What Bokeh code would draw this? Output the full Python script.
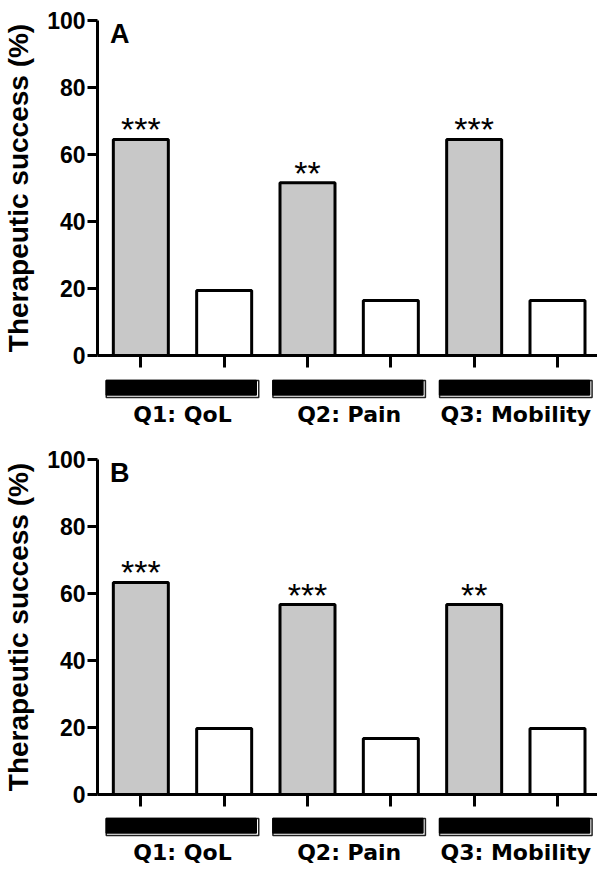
from bokeh.plotting import figure
from bokeh.models import Range1d, FixedTicker, Label, ColumnDataSource
from bokeh.layouts import column
from bokeh.core.properties import value
from bokeh.embed import file_html
from bokeh.resources import INLINE

# ---- data ----
categories = ["Q1: QoL", "Q2: Pain", "Q3: Mobility"]
panel_a_treated = [64.5, 51.6, 64.5]
panel_a_control = [19.4, 16.4, 16.4]
panel_b_treated = [63.3, 56.7, 56.7]
panel_b_control = [19.7, 16.7, 19.7]
sig_a = ["***", "**", "***"]
sig_b = ["***", "***", "**"]
y_ticks = [0, 20, 40, 60, 80, 100]
panel_letters = ["A", "B"]

FONT = "Liberation Sans"
x_range = Range1d(-0.52, 5.48)
LEFT = 97
FW = 500


def main_panel(treated, control, sig, letter, top_border):
    n = len(categories)
    tx = [2 * i for i in range(n)]
    cx = [2 * i + 1 for i in range(n)]
    p = figure(frame_width=FW, frame_height=335, x_range=x_range,
               y_range=Range1d(0, 100), output_backend="svg",
               toolbar_location=None, min_border_left=LEFT, min_border_right=0,
               min_border_top=top_border, min_border_bottom=14)
    p.outline_line_color = None
    p.grid.visible = False
    p.vbar(x=tx, top=treated, bottom=0, width=0.66, fill_color="#c8c8c8",
           line_color="black", line_width=3)
    p.vbar(x=cx, top=control, bottom=0, width=0.66, fill_color="white",
           line_color="black", line_width=3)
    src = ColumnDataSource(dict(x=tx, y=treated, t=sig))
    p.text(x="x", y="y", text="t", source=src, text_align="center",
           text_baseline="alphabetic", text_font=value(FONT),
           text_font_size="34px", text_color="black", y_offset=-10)

    ya = p.yaxis[0]
    ya.ticker = FixedTicker(ticks=y_ticks)
    ya.axis_line_width = 3
    ya.major_tick_line_width = 3
    ya.major_tick_out = 10
    ya.major_tick_in = 0
    ya.minor_tick_out = 0
    ya.minor_tick_in = 0
    ya.major_label_standoff = 2
    ya.major_label_text_font = FONT
    ya.major_label_text_font_style = "bold"
    ya.major_label_text_font_size = "23px"
    ya.major_label_text_color = "black"
    ya.axis_label = "Therapeutic success (%)"
    ya.axis_label_text_font = FONT
    ya.axis_label_text_font_style = "bold"
    ya.axis_label_text_font_size = "28px"
    ya.axis_label_text_color = "black"
    ya.axis_label_standoff = 10

    xa = p.xaxis[0]
    ticks = tx + cx
    xa.ticker = FixedTicker(ticks=ticks)
    xa.major_label_overrides = {t: "" for t in ticks}
    xa.axis_line_width = 3
    xa.major_tick_line_width = 3
    xa.major_tick_out = 12
    xa.major_tick_in = 0
    xa.minor_tick_out = 0
    xa.minor_tick_in = 0
    xa.major_label_standoff = 0

    p.add_layout(Label(x=-0.37, y=96, text=letter, text_font=FONT,
                       text_font_style="bold", text_font_size="27px",
                       text_baseline="alphabetic", text_color="black"))
    return p


def strip_panel(height, bar_top, baseline):
    n = len(categories)
    centers = [(2 * i + 2 * i + 1) / 2 for i in range(n)]
    p = figure(frame_width=FW, frame_height=height, x_range=x_range,
               y_range=Range1d(height, 0), output_backend="svg",
               toolbar_location=None, min_border_left=LEFT, min_border_right=0,
               min_border_top=0, min_border_bottom=0,
               x_axis_type=None, y_axis_type=None)
    p.outline_line_color = None
    p.grid.visible = False
    half = 0.915
    left = [c - half for c in centers]
    right = [c + half for c in centers]
    p.quad(left=left, right=right, top=bar_top, bottom=bar_top + 17,
           fill_color="white", line_color="#222222", line_width=1.5)
    p.quad(left=left, right=[r - 0.03 for r in right], top=bar_top,
           bottom=bar_top + 14.5, fill_color="black", line_color="black",
           line_width=1.5)
    p.text(x=centers, y=[baseline] * n, text=categories, text_align="center",
           text_baseline="alphabetic", text_font=value("DejaVu Sans"),
           text_font_style="bold", text_font_size="22px", text_color="black")
    return p


pa = main_panel(panel_a_treated, panel_a_control, sig_a, panel_letters[0], 20)
sa = strip_panel(70, 11, 45)
pb = main_panel(panel_b_treated, panel_b_control, sig_b, panel_letters[1], 20)
sb = strip_panel(62, 10, 44)

layout = column(pa, sa, pb, sb, spacing=0)
open("out.html", "w").write(file_html(layout, INLINE))
